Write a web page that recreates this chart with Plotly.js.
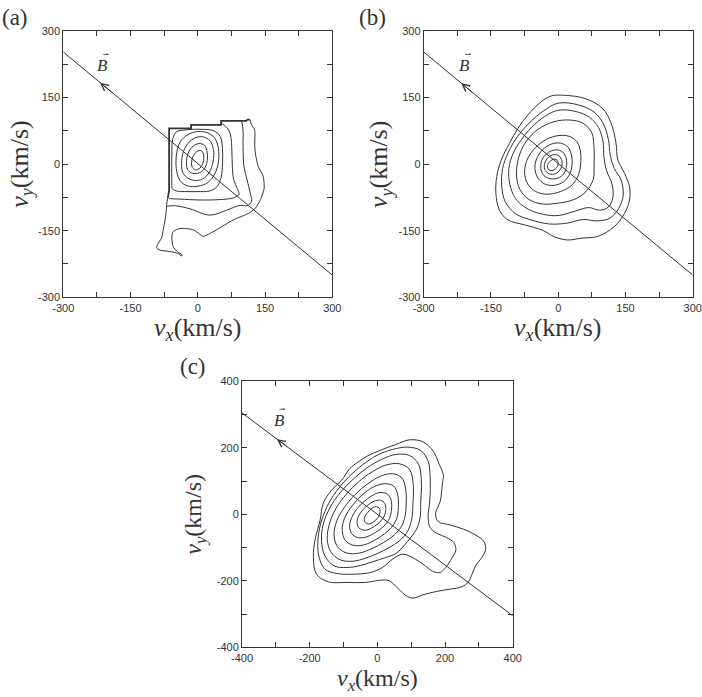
<!DOCTYPE html>
<html>
<head>
<meta charset="utf-8">
<script src="https://cdn.plot.ly/plotly-3.0.1.min.js"></script>
<style>html,body{margin:0;padding:0;background:#fff;}#chart{width:702px;height:697px;}</style>
</head>
<body>
<div id="chart"></div>
<script>
// ---------- tick values / labels ----------
const abTickVals = [-300,-150,0,150,300];
const abTickText = ['-300','-150','0','150','300'];
const abMinorVals = [-225,-75,75,225];
const cTickVals = [-400,-200,0,200,400];
const cTickText = ['-400','-200','0','200','400'];
const cMinorVals = [-300,-100,100,300];

// ---------- magnetic field direction lines ----------
const aBx = [-300, 300], aBy = [252, -250];
const bBx = [-300, 300], bBy = [252, -250];
const cBx = [-400, 400], cBy = [305, -305];
const aArrowTip = [-218, 183], aArrowTail = [-190, 160];
const bArrowTip = [-216, 182], bArrowTail = [-188, 158];
const cArrowTip = [-297, 226], cArrowTail = [-262, 200];
const aBLabel = [-212, 222], bBLabel = [-208, 222], cBLabel = [-290, 283];

// ---------- panel (a) contours ----------
const a1 = [[-14,0],[-11,16],[-2,28],[8,30],[13,20],[12,4],[5,-9],[-5,-13],[-12,-8]];
const a2 = [[-25,-2],[-23,20],[-13,38],[2,46],[15,42],[21,25],[20,2],[12,-14],[0,-21],[-14,-20],[-23,-12]];
const a3 = [[-36,-5],[-34,22],[-23,45],[-6,59],[12,61],[27,52],[35,32],[34,5],[25,-20],[10,-34],[-8,-37],[-25,-30],[-34,-18]];
const a4 = [[-48,-10],[-47,25],[-39,50],[-22,66],[0,73],[22,70],[38,58],[46,35],[46,5],[38,-22],[22,-42],[0,-50],[-24,-49],[-40,-37]];
const a5 = [[-58,-40],[-58,20],[-56,55],[-48,72],[-25,77],[10,78],[35,75],[50,62],[55,35],[55,0],[52,-30],[42,-52],[25,-61],[0,-62],[-30,-62],[-50,-60],[-57,-55]];
const a6 = [[52,92],[65,82],[73,65],[76,30],[77,-5],[80,-35],[88,-55],[92,-68],[80,-76],[50,-80],[5,-81],[-40,-79],[-64,-78]];
const a7 = [[98,96],[101,76],[101,39],[103,-6],[110,-36],[117,-66],[120,-84],[110,-94],[94,-93],[64,-104],[27,-115],[-17,-101],[-50,-94],[-69,-95]];
const aEdge = [[-67,-77],[-64,-60],[-64,80],[-15,80],[-15,88],[52,88],[52,97],[108,97],[111,100],[116,100]];
const aOuter = [[116,100],[120,88],[127,76],[127,40],[129,20],[135,-6],[146,-28],[148,-55],[140,-80],[128,-100],[113,-111],[79,-126],[42,-148],[20,-160],[12,-163],[-10,-148],[-40,-145],[-55,-152],[-58,-165],[-55,-186],[-45,-198],[-36,-203],[-36,-207],[-45,-201],[-62,-197],[-84,-194],[-92,-189],[-88,-178],[-81,-167],[-77,-148],[-73,-126],[-71,-111],[-69,-88],[-67,-77]];

// ---------- panel (b) contours ----------
const b1 = [[-2,8],[-9,11],[-18,6],[-24,-4],[-22,-12],[-14,-15],[-5,-10],[0,0]];
const b2 = [[8,8],[2,18],[-10,21],[-22,15],[-30,2],[-30,-12],[-22,-21],[-10,-23],[2,-16],[8,-5]];
const b3 = [[18,12],[10,27],[-5,32],[-22,26],[-35,12],[-39,-5],[-35,-22],[-22,-32],[-5,-33],[10,-25],[18,-8]];
const b4 = [[30,18],[22,38],[5,47],[-15,45],[-35,32],[-48,12],[-52,-10],[-45,-32],[-30,-45],[-10,-48],[12,-40],[26,-22],[31,0]];
const b5 = [[50,25],[42,50],[22,63],[-5,63],[-32,52],[-55,32],[-70,8],[-75,-20],[-68,-45],[-50,-62],[-25,-68],[5,-62],[30,-48],[45,-25],[50,0]];
const b6 = [[80,35],[75,70],[55,92],[25,99],[-10,95],[-45,78],[-72,50],[-88,15],[-93,-25],[-85,-58],[-65,-80],[-35,-90],[0,-88],[35,-80],[62,-62],[78,-35],[80,0]];
const b7 = [[0,121],[40,118],[70,105],[90,82],[100,50],[102,15],[108,-15],[120,-45],[122,-75],[112,-97],[92,-104],[68,-98],[38,-106],[0,-116],[-35,-113],[-70,-100],[-95,-78],[-108,-45],[-110,-10],[-100,25],[-82,55],[-60,82],[-30,107]];
const b8 = [[0,137],[45,133],[80,117],[100,92],[112,55],[116,20],[125,-10],[140,-35],[145,-70],[135,-100],[115,-122],[88,-128],[55,-125],[20,-133],[-20,-135],[-60,-126],[-95,-112],[-118,-85],[-126,-50],[-124,-10],[-112,25],[-92,60],[-65,92],[-32,120]];
const b9 = [[2,155],[58,148],[99,125],[118,92],[129,47],[133,9],[148,-21],[159,-51],[159,-81],[148,-111],[125,-141],[88,-163],[51,-167],[21,-171],[-8,-164],[-35,-149],[-75,-137],[-112,-126],[-131,-104],[-139,-66],[-137,-28],[-127,9],[-109,46],[-90,80],[-68,110],[-38,140],[-16,153]];

// ---------- panel (c) contours ----------
const c1 = [[8,8],[6,18],[-3,23],[-15,19],[-28,6],[-38,-10],[-37,-23],[-26,-29],[-12,-23],[2,-10]];
const c2 = [[25,12],[22,32],[10,42],[-8,40],[-30,26],[-50,4],[-60,-20],[-55,-40],[-38,-48],[-18,-42],[2,-28],[18,-10]];
const c3 = [[42,15],[40,45],[28,62],[5,65],[-22,52],[-50,28],[-72,-2],[-82,-32],[-76,-58],[-58,-70],[-32,-68],[-5,-54],[20,-35],[36,-12]];
const c4 = [[62,20],[60,60],[48,85],[22,92],[-12,82],[-45,58],[-75,25],[-97,-12],[-104,-48],[-95,-78],[-72,-93],[-40,-92],[-8,-78],[22,-58],[45,-35],[58,-10]];
const c5 = [[85,25],[84,75],[72,110],[45,122],[10,115],[-28,92],[-65,60],[-98,20],[-120,-20],[-128,-62],[-118,-97],[-92,-116],[-55,-117],[-18,-104],[18,-85],[50,-62],[72,-35],[82,-5]];
const c6 = [[105,30],[106,90],[95,135],[65,152],[25,148],[-15,128],[-55,98],[-92,60],[-122,18],[-142,-30],[-148,-75],[-138,-112],[-110,-137],[-72,-141],[-35,-132],[0,-118],[35,-100],[65,-80],[90,-50],[102,-12]];
const c7 = [[128,30],[130,100],[122,150],[95,177],[55,180],[12,165],[-30,140],[-72,105],[-110,65],[-140,20],[-160,-30],[-165,-80],[-155,-125],[-128,-155],[-90,-160],[-50,-154],[-12,-142],[25,-130],[55,-118],[78,-95],[100,-68],[118,-40],[127,-5]];
const c8 = [[155,40],[156,110],[150,160],[128,192],[90,202],[45,195],[0,178],[-42,150],[-85,112],[-122,68],[-150,20],[-168,-30],[-176,-85],[-172,-130],[-155,-165],[-120,-178],[-70,-180],[-20,-175],[15,-160],[45,-135],[75,-120],[100,-128],[135,-150],[165,-172],[185,-175],[202,-160],[220,-132],[232,-108],[226,-85],[205,-70],[175,-57],[155,-38],[150,-5]];
const c9 = [[186,40],[192,90],[195,118],[183,150],[165,190],[135,218],[95,224],[55,210],[10,193],[-30,175],[-60,155],[-81,138],[-105,103],[-135,73],[-160,33],[-169,-17],[-184,-77],[-189,-127],[-180,-180],[-145,-203],[-90,-205],[-35,-205],[10,-198],[35,-200],[60,-222],[85,-245],[105,-252],[135,-242],[175,-232],[215,-225],[250,-218],[268,-205],[278,-185],[290,-155],[310,-128],[320,-105],[315,-82],[295,-65],[255,-45],[215,-32],[180,-22],[172,0],[178,20]];

// ---------- build ----------
const INK = '#333333';
function trace(pts, xa, ya, closed, shape, width, smoothing) {
  const p = closed ? pts.concat([pts[0]]) : pts;
  return {
    type: 'scatter', mode: 'lines',
    x: p.map(q => q[0]), y: p.map(q => q[1]),
    xaxis: xa, yaxis: ya,
    line: {color: INK, width: width || 1, shape: shape || 'spline', smoothing: smoothing || 1},
    hoverinfo: 'skip', showlegend: false
  };
}
const data = [];
[a1,a2,a3,a4,a5].forEach(r => data.push(trace(r,'x','y',true)));
[a6,a7].forEach(r => data.push(trace(r,'x','y',false)));
data.push(trace(aEdge,'x','y',false,'linear',1.8));
data.push(trace(aOuter,'x','y',false,'spline',1,0.6));
[b1,b2,b3,b4,b5,b6,b7,b8,b9].forEach(r => data.push(trace(r,'x2','y2',true)));
[c1,c2,c3,c4,c5,c6,c7,c8,c9].forEach(r => data.push(trace(r,'x3','y3',true)));
data.push(trace([[aBx[0],aBy[0]],[aBx[1],aBy[1]]],'x','y',false,'linear',1));
data.push(trace([[bBx[0],bBy[0]],[bBx[1],bBy[1]]],'x2','y2',false,'linear',1));
data.push(trace([[cBx[0],cBy[0]],[cBx[1],cBy[1]]],'x3','y3',false,'linear',1));

const W = 702, H = 697;
function pxDom(a, b) { return [a/W, b/W]; }
function pyDom(top, bot) { return [1 - bot/H, 1 - top/H]; }
function axis(domain, range, tv, tt, mv, anchor) {
  return {
    domain: domain, range: range, anchor: anchor,
    tickmode: 'array', tickvals: tv, ticktext: tt,
    ticks: 'inside', ticklen: 5, tickwidth: 1, tickcolor: INK,
    minor: {tickmode: 'array', tickvals: mv, ticks: 'inside', ticklen: 5, tickwidth: 1, tickcolor: INK, showgrid: false},
    showline: true, linecolor: INK, linewidth: 1, mirror: 'ticks',
    showgrid: false, zeroline: false, fixedrange: true,
    tickfont: {family: 'Liberation Sans, Arial, sans-serif', size: 11, color: '#333'}
  };
}
const serif = '"Liberation Serif", "Times New Roman", serif';
function titles(xd, yd, dx, dy, size) {
  const f = {family: serif, size: size, color: INK};
  return [
    {xref: xd, yref: yd, x: 0.5, y: dy, xanchor: 'center', yanchor: 'middle', showarrow: false,
     text: '<i>v</i><sub><i>x</i></sub>(km/s)', font: f},
    {xref: xd, yref: yd, x: dx, y: 0.5, xanchor: 'center', yanchor: 'middle', showarrow: false, textangle: -90,
     text: '<i>v</i><sub><i>y</i></sub>(km/s)', font: f}
  ];
}
function bArrow(xa, ya, tip, tail, lab) {
  return [
    {xref: xa, yref: ya, axref: xa, ayref: ya, x: tip[0], y: tip[1], ax: tail[0], ay: tail[1],
     text: '', showarrow: true, arrowhead: 5, arrowsize: 1.4, arrowwidth: 1, arrowcolor: INK, standoff: 0},
    {xref: xa, yref: ya, x: lab[0], y: lab[1], text: '<i>B</i>', showarrow: false,
     font: {family: serif, size: 17, color: INK}, xanchor: 'center', yanchor: 'middle'},
    {xref: xa, yref: ya, x: lab[0], y: lab[1], xshift: 6, yshift: 11, ax: -7, ay: 0,
     text: '', showarrow: true, arrowhead: 2, arrowsize: 0.5, arrowwidth: 0.8, arrowcolor: INK, standoff: 0}
  ];
}
const panelFont = {family: serif, size: 23, color: INK};
const annotations = []
  .concat(titles('x domain', 'y domain', -0.158, -0.118, 26))
  .concat(titles('x2 domain', 'y2 domain', -0.162, -0.118, 26))
  .concat(titles('x3 domain', 'y3 domain', -0.172, -0.124, 24))
  .concat(bArrow('x', 'y', aArrowTip, aArrowTail, aBLabel))
  .concat(bArrow('x2', 'y2', bArrowTip, bArrowTail, bBLabel))
  .concat(bArrow('x3', 'y3', cArrowTip, cArrowTail, cBLabel))
  .concat([
    {xref: 'paper', yref: 'paper', x: 15/W, y: 1 - 17/H, text: '(a)', showarrow: false, font: panelFont, xanchor: 'center', yanchor: 'middle'},
    {xref: 'paper', yref: 'paper', x: 372/W, y: 1 - 17/H, text: '(b)', showarrow: false, font: panelFont, xanchor: 'center', yanchor: 'middle'},
    {xref: 'paper', yref: 'paper', x: 193/W, y: 1 - 367/H, text: '(c)', showarrow: false, font: panelFont, xanchor: 'center', yanchor: 'middle'}
  ]);

const layout = {
  width: W, height: H, margin: {l: 0, r: 0, t: 0, b: 0},
  paper_bgcolor: '#fff', plot_bgcolor: '#fff', showlegend: false,
  xaxis: axis(pxDom(63.3, 332.3), [-300, 300], abTickVals, abTickText, abMinorVals, 'y'),
  yaxis: axis(pyDom(30.7, 297.3), [-300, 300], abTickVals, abTickText, abMinorVals, 'x'),
  xaxis2: axis(pxDom(423.7, 692.7), [-300, 300], abTickVals, abTickText, abMinorVals, 'y2'),
  yaxis2: axis(pyDom(30.7, 297.3), [-300, 300], abTickVals, abTickText, abMinorVals, 'x2'),
  xaxis3: axis(pxDom(242, 512.7), [-400, 400], cTickVals, cTickText, cMinorVals, 'y3'),
  yaxis3: axis(pyDom(381.3, 647.3), [-400, 400], cTickVals, cTickText, cMinorVals, 'x3'),
  annotations: annotations
};
Plotly.newPlot('chart', data, layout, {staticPlot: true, displayModeBar: false});
</script>
</body>
</html>
